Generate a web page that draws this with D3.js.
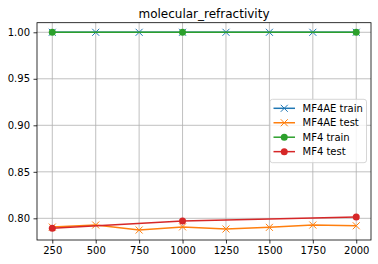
<!DOCTYPE html>
<html><head><meta charset="utf-8">
<script src="https://cdn.jsdelivr.net/npm/d3@7"></script>
<style>body{margin:0;background:#fff}svg{display:block;font-family:"DejaVu Sans",sans-serif}</style>
</head><body><svg id="c" width="378" height="264"></svg>
<script>
const sizes=[250,500,750,1000,1250,1500,1750,2000];
const mf4aeTrain=[1,1,1,1,1,1,1,1];
const mf4aeTest=[0.7906,0.7928,0.7874,0.7908,0.7885,0.7903,0.7928,0.7920];
const mf4Sizes=[250,1000,2000];
const mf4Train=[1,1,1];
const mf4Test=[0.7893,0.7970,0.8014];
const xTicks=[250,500,750,1000,1250,1500,1750,2000];
const yTicks=[0.80,0.85,0.90,0.95,1.00];
const title="molecular_refractivity";
const series=[
 {name:"MF4AE train",x:sizes,y:mf4aeTrain,color:"#1f77b4",marker:"x"},
 {name:"MF4AE test",x:sizes,y:mf4aeTest,color:"#ff7f0e",marker:"x"},
 {name:"MF4 train",x:mf4Sizes,y:mf4Train,color:"#2ca02c",marker:"o"},
 {name:"MF4 test",x:mf4Sizes,y:mf4Test,color:"#d62728",marker:"o"}
];
const svg=d3.select("#c");
const L=37,R=371,T=22.7,B=240;
const x=d3.scaleLinear().domain([162,2085]).range([L,R]);
const y=d3.scaleLinear().domain([0.7767,1.0103]).range([B,T]);
// grid
svg.append("g").selectAll("line").data(xTicks).join("line")
 .attr("x1",d=>x(d)).attr("x2",d=>x(d)).attr("y1",T).attr("y2",B)
 .attr("stroke","#b0b0b0").attr("stroke-width",0.8);
svg.append("g").selectAll("line").data(yTicks).join("line")
 .attr("x1",L).attr("x2",R).attr("y1",d=>y(d)).attr("y2",d=>y(d))
 .attr("stroke","#b0b0b0").attr("stroke-width",0.8);
// axes
const xa=svg.append("g").attr("transform",`translate(0,${B})`)
 .call(d3.axisBottom(x).tickValues(xTicks).tickSize(3.5).tickPadding(3.5).tickFormat(d3.format("d")));
const ya=svg.append("g").attr("transform",`translate(${L},0)`)
 .call(d3.axisLeft(y).tickValues(yTicks).tickSize(3.5).tickPadding(3.5).tickFormat(d3.format(".2f")));
[xa,ya].forEach(a=>{a.select(".domain").remove();a.selectAll("text").attr("font-size",10).attr("fill","#000").attr("font-family","DejaVu Sans");a.selectAll("line").attr("stroke","#000").attr("stroke-width",0.8);});
svg.append("rect").attr("x",L).attr("y",T).attr("width",R-L).attr("height",B-T)
 .attr("fill","none").attr("stroke","#000").attr("stroke-width",0.8);
// series
const line=d3.line();
function marker(g,m,cx,cy,color){
 if(m==="x"){const s=3.5;
  g.append("path").attr("d",`M${cx-s},${cy-s}L${cx+s},${cy+s}M${cx-s},${cy+s}L${cx+s},${cy-s}`)
   .attr("stroke",color).attr("stroke-width",1).attr("fill","none");}
 else g.append("circle").attr("cx",cx).attr("cy",cy).attr("r",3.5).attr("fill",color);
}
series.forEach(s=>{
 const g=svg.append("g");
 const pts=s.x.map((v,i)=>[x(v),y(s.y[i])]);
 g.append("path").attr("d",line(pts)).attr("fill","none").attr("stroke",s.color).attr("stroke-width",1.5);
 pts.forEach(p=>marker(g,s.marker,p[0],p[1],s.color));
});
// title
svg.append("text").attr("x",(L+R)/2).attr("y",17.5).attr("text-anchor","middle")
 .attr("font-size",12).text(title);
// legend
const lg=svg.append("g");
lg.append("rect").attr("x",270).attr("y",99.3).attr("width",96.5).attr("height",63.4).attr("rx",2.5)
 .attr("fill","#fff").attr("fill-opacity",0.8).attr("stroke","#cccccc").attr("stroke-width",0.8);
series.forEach((s,i)=>{
 const yy=108.3+i*14.45;
 lg.append("line").attr("x1",273.5).attr("x2",295).attr("y1",yy).attr("y2",yy).attr("stroke",s.color).attr("stroke-width",1.5);
 marker(lg,s.marker,284.25,yy,s.color);
 lg.append("text").attr("x",302.5).attr("y",yy+3.6).attr("font-size",10).text(s.name);
});
</script></body></html>
